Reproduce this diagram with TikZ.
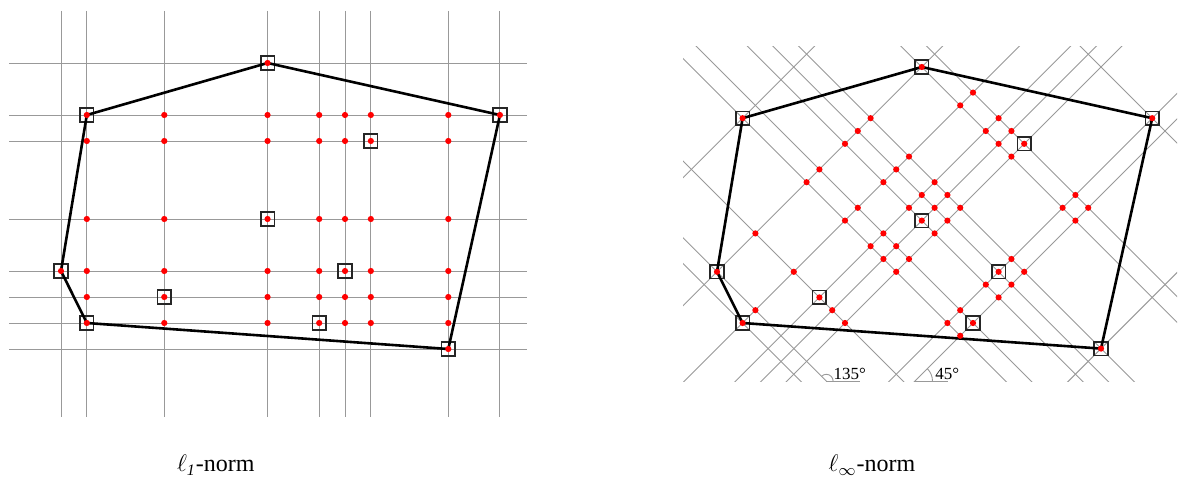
\documentclass[tikz,border=0pt]{standalone}
\usepackage{fontspec}
\setmainfont{Liberation Serif}
\usetikzlibrary{positioning}

% 1 if (x,y) lies in the hull A-C-K-I-F-B (grid units, y downwards)
\newcommand{\hulltest}[2]{%
  \pgfmathtruncatemacro\inhull{(7*(#2)+2*(#1)>=15.99) && (9*(#2)-2*(#1)>=-16.01)
    && (9*(#1)+2*(#2)<=157.01) && (14*(#2)-(#1)<=139.01)
    && (2*(#1)-(#2)>=-8.01) && (6*(#1)+(#2)>=7.99)}}

\begin{document}
\begin{tikzpicture}[x=0.5pt, y=-0.5pt,
    gridline/.style={draw=black!40, line width=0.45pt},
    hull/.style={draw=black, line width=1.3pt, line join=round},
    site/.style={draw=black!85, rectangle, line width=0.8pt, minimum size=6.8pt, inner sep=0pt},
    reddot/.style={fill=red},
    normlabel/.style={anchor=base west, inner sep=0pt, font=\fontsize{12}{14}\selectfont},
    anglelabel/.style={anchor=base west, inner sep=0pt, font=\fontsize{8.5}{10}\selectfont}]
    \useasboundingbox (0,0) rectangle (1183,481);

    % l1-norm: axis-parallel lines
    \begin{scope}[shift={(61,63)}, x=12.91pt, y=-13pt]
        \foreach \x in {0,1,4,8,10,11,12,15,17}
            \draw[gridline] (\x,-2) -- (\x,13.6);
        \foreach \y in {0,2,3,6,8,9,10,11}
            \draw[gridline] (-2,\y) -- (18.05,\y);
        \foreach \n/\x/\y in {A/8/0,B/1/2,C/17/2,D/12/3,E/8/6,F/0/8,G/11/8,H/4/9,I/1/10,J/10/10,K/15/11}
            \node[site] (l\n) at (\x,\y) {};
        \draw[hull] (lA.center) -- (lC.center) -- (lK.center) -- (lI.center) -- (lF.center) -- (lB.center) -- cycle;
        \foreach \x in {0,1,4,8,10,11,12,15,17}
            \foreach \y in {0,2,3,6,8,9,10,11} {
                \hulltest{\x}{\y}
                \ifnum\inhull=1 \fill[reddot] (\x,\y) circle[radius=1.55pt]; \fi
            }
    \end{scope}

    % l-infinity-norm: lines at 45 and 135 degrees
    \begin{scope}
        \clip (683,47) rectangle (1177,381);
        \begin{scope}[shift={(717,67)}, x=12.8pt, y=-12.8pt]
            \foreach \s in {3,8,11,13,14,15,19,20,26}
                \draw[gridline] ({\s/2-20},{\s/2+20}) -- ({\s/2+20},{\s/2-20});
            \foreach \d in {-9,-8,-5,-1,0,2,3,4,8,9,15}
                \draw[gridline] ({(\d)/2-20},{-(\d)/2-20}) -- ({(\d)/2+20},{-(\d)/2+20});
        \end{scope}
    \end{scope}

    \begin{scope}[shift={(717,67)}, x=12.8pt, y=-12.8pt]
        \foreach \n/\x/\y in {A/8/0,B/1/2,C/17/2,D/12/3,E/8/6,F/0/8,G/11/8,H/4/9,I/1/10,J/10/10,K/15/11}
            \node[site] (r\n) at (\x,\y) {};
        \draw[hull] (rA.center) -- (rC.center) -- (rK.center) -- (rI.center) -- (rF.center) -- (rB.center) -- cycle;
        \foreach \s in {3,8,11,13,14,15,19,20,26}
            \foreach \d in {-9,-8,-5,-1,0,2,3,4,8,9,15} {
                \pgfmathsetmacro\px{(\s+(\d))/2}
                \pgfmathsetmacro\py{(\s-(\d))/2}
                \hulltest{\px}{\py}
                \ifnum\inhull=1 \fill[reddot] (\px,\py) circle[radius=1.55pt]; \fi
            }

        % angle marks
        \coordinate (a135) at (4.27,12.27);
        \coordinate (a45) at (7.73,12.27);
        \draw[gridline] (a135) -- ++(16.7pt,0);
        \draw[gridline] (a135) ++(3.4pt,0) arc[start angle=0, end angle=135, radius=3.4pt];
        \node[anglelabel] (t135) at ([xshift=3.4pt, yshift=1pt]a135) {135°};
        \draw[gridline] (a45) -- ++(16.7pt,0);
        \draw[gridline] (a45) ++(8.8pt,0) arc[start angle=0, end angle=45, radius=8.8pt];
        \node[anglelabel] (t45) at ([xshift=10pt, yshift=1pt]a45) {45°};
    \end{scope}

    % captions
    \node[normlabel] (lname) at (176.7,471.7) {$\ell_{\mathit{1}}$-norm};
    \node[normlabel] (rname) at (828.3,471.7) {$\ell_{\infty}$-norm};
\end{tikzpicture}
\end{document}
